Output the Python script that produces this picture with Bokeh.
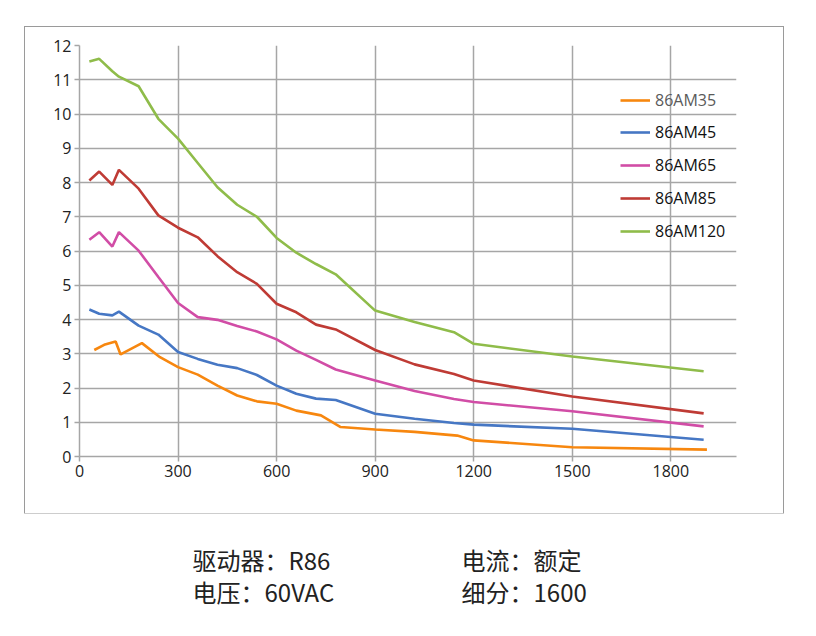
from bokeh.plotting import figure
from bokeh.models import FixedTicker, Range1d, Legend, LegendItem
from bokeh.embed import file_html
from bokeh.resources import INLINE

# ---- data ----
x_std = [30, 60, 100, 120, 180, 240, 300, 360, 420, 480, 540, 600, 660, 720, 780, 900, 1020, 1140, 1200, 1500, 1900]
am120 = [11.53, 11.61, 11.25, 11.09, 10.81, 9.86, 9.28, 8.57, 7.86, 7.35, 7.0, 6.38, 5.95, 5.62, 5.32, 4.26, 3.93, 3.63, 3.29, 2.92, 2.49]
am85 = [8.06, 8.32, 7.93, 8.37, 7.82, 7.04, 6.68, 6.40, 5.85, 5.38, 5.04, 4.46, 4.21, 3.85, 3.71, 3.11, 2.69, 2.41, 2.22, 1.75, 1.26]
am65 = [6.33, 6.55, 6.13, 6.55, 6.01, 5.24, 4.48, 4.07, 3.99, 3.81, 3.65, 3.42, 3.09, 2.82, 2.54, 2.22, 1.91, 1.68, 1.59, 1.32, 0.88]
am45 = [4.29, 4.17, 4.12, 4.23, 3.82, 3.56, 3.05, 2.85, 2.68, 2.58, 2.38, 2.07, 1.83, 1.69, 1.65, 1.25, 1.10, 0.98, 0.93, 0.81, 0.49]
x_35 = [45, 75, 110, 125, 190, 245, 300, 360, 420, 480, 540, 600, 660, 735, 795, 900, 1020, 1150, 1200, 1500, 1910]
am35 = [3.11, 3.26, 3.36, 2.98, 3.31, 2.90, 2.61, 2.39, 2.07, 1.78, 1.61, 1.54, 1.34, 1.20, 0.86, 0.79, 0.72, 0.61, 0.47, 0.27, 0.20]

series_names = ["86AM35", "86AM45", "86AM65", "86AM85", "86AM120"]
series_colors = ["#f7870f", "#4677c4", "#d14da6", "#bf3b35", "#8fbc4a"]
x_ticks = [0, 300, 600, 900, 1200, 1500, 1800]
y_ticks = list(range(0, 13))
info_texts = ["驱动器：R86", "电流：额定", "电压：60VAC", "细分：1600"]
info_x = [192, 461, 192, 461]
info_y = [46, 46, 78, 78]

# ---- chart figure ----
p = figure(width=758, height=486, output_backend="svg", toolbar_location=None,
           x_range=Range1d(0, 2000), y_range=Range1d(0, 12),
           min_border_left=54, min_border_right=47, min_border_top=18, min_border_bottom=57,
           margin=(27, 0, 0, 25),
           styles={"outline": "1px solid #9a9a9a"})
p.outline_line_color = None
p.background_fill_color = "white"
p.border_fill_color = "white"

grid_color = "#a6a6a6"
p.xaxis.ticker = FixedTicker(ticks=x_ticks)
p.yaxis.ticker = FixedTicker(ticks=y_ticks)
p.xgrid.ticker = FixedTicker(ticks=x_ticks)
p.ygrid.ticker = FixedTicker(ticks=y_ticks)
for g in (p.xgrid, p.ygrid):
    g.grid_line_color = grid_color
    g.grid_line_width = 1.5
for ax in (p.xaxis, p.yaxis):
    ax.axis_line_color = grid_color
    ax.axis_line_width = 1.5
    ax.major_tick_line_color = grid_color
    ax.major_tick_line_width = 1.5
    ax.major_tick_out = 5
    ax.major_tick_in = 0
    ax.minor_tick_line_color = None
    ax.major_label_text_font = "Open Sans"
    ax.major_label_text_font_size = "16px"
    ax.major_label_text_color = "#222222"
    ax.major_label_standoff = 3

xs = [x_35, x_std, x_std, x_std, x_std]
ys = [am35, am45, am65, am85, am120]
renderers = []
for color, xv, yv in zip(series_colors, xs, ys):
    renderers.append(p.line(xv, yv, line_color=color, line_width=2.6))


def make_legend(items, loc, text_color):
    lg = Legend(items=items, location=loc, padding=0, margin=0, spacing=11,
                glyph_width=30, glyph_height=20, label_height=20, label_standoff=5,
                label_text_font="Open Sans", label_text_font_size="16px",
                label_text_color=text_color, border_line_color=None,
                background_fill_alpha=0)
    p.add_layout(lg)


make_legend([LegendItem(label=series_names[0], renderers=[renderers[0]])], (541, 345), "#5a5a5a")
make_legend([LegendItem(label=n, renderers=[r]) for n, r in zip(series_names[1:], renderers[1:])],
            (541, 214), "#111111")

# ---- info text figure ----
q = figure(width=800, height=110, output_backend="svg", toolbar_location=None,
           x_axis_type=None, y_axis_type=None,
           x_range=Range1d(0, 800), y_range=Range1d(110, 0),
           min_border_left=0, min_border_right=0, min_border_top=0, min_border_bottom=0,
           margin=(0, 0, 0, 0))
q.grid.visible = False
q.outline_line_color = None
q.text(x=info_x, y=info_y, text=info_texts, text_font={"value": "Noto Sans CJK SC"},
       text_font_size="24px", text_baseline="middle", text_align="left", text_color="#222222")

open("out.html", "w").write(file_html([p, q], INLINE))
